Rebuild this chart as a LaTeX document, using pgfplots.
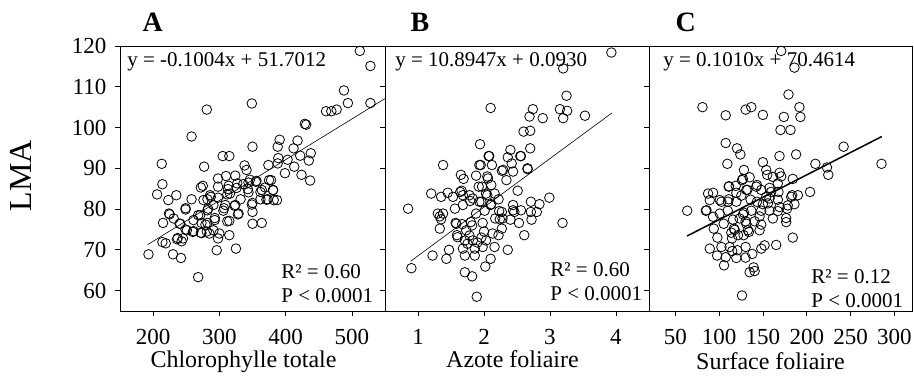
\documentclass[border=0pt]{standalone}
\usepackage{fontspec}
\setmainfont{Liberation Serif}
\usepackage{pgfplots}
\pgfplotsset{compat=1.18}

\pgfplotsset{
  panel/.style={
    scale only axis, width=#1, height=265pt,
    ymin=55, ymax=120, ytick={60,70,...,120},
    line width=0.8pt,
    tick align=outside, xtick pos=lower, ytick pos=left,
    major tick length=5pt,
    tick style={black, line width=0.7pt},
    tick label style={font=\fontsize{23}{27}\selectfont},
    xticklabel style={inner sep=0pt},
    /pgf/number format/assume math mode=true,
    xticklabel shift=13pt, yticklabel shift=5pt,
    clip=false,
    xlabel style={at={(axis description cs:0.5,0)}, anchor=base, yshift=-57pt,
      inner sep=0pt, font=\fontsize{24}{28}\selectfont},
    title style={at={(axis description cs:0,1)}, anchor=base west, yshift=8pt,
      font=\fontsize{28}{32}\selectfont\bfseries},
  },
  pts/.style={only marks, mark=o, mark size=4.8pt, mark options={line width=0.8pt, black}},
}
\tikzset{
  eq/.style={anchor=north west, inner sep=0pt, font=\fontsize{21}{24}\selectfont},
  rr/.style={anchor=south west, align=left, inner sep=0pt, font=\fontsize{21}{24}\selectfont},
}

\begin{document}
\begin{tikzpicture}
\path[use as bounding box] (-120pt,-76pt) rectangle (794pt,311pt);

% A
\begin{axis}[panel=265pt, at={(0pt,0pt)}, anchor=south west,
  xmin=150, xmax=550, xtick={200,300,400,500},
  xlabel={Chlorophylle totale}, xlabel style={xshift=-9pt},
  title={A}, title style={xshift=19pt}]
\addplot[pts] coordinates {
(193,68.9) (213,91.1) (206,83.6) (214,86.1) (223,82.2) (235,83.4) (215,76.6) (224,78.9)
(231,77.7) (214,71.9) (219,71.6) (230,68.9) (242,68.0) (236,72.6) (243,72.1) (245,72.8)
(241,76.4) (249,79.9) (251,74.8) (258,82.4) (258,97.8) (261,77.3) (261,74.6) (273,76.6)
(273,74.1) (271,78.5) (272,85.3) (275,85.7) (277,90.4) (281,104.4) (276,82.2) (282,82.4)
(286,83.4) (283,80.1) (282,76.6) (281,74.5) (285,74.0) (291,74.8) (293,77.3) (296,69.9)
(298,72.8) (300,74.0) (268,63.3) (298,85.5) (298,87.5) (305,93.0) (306,79.6) (309,81.0)
(310,88.1) (315,93.0) (314,85.7) (316,83.8) (315,77.1) (315,73.6) (324,88.2) (324,81.0)
(325,70.3) (327,86.3) (329,78.9) (332,82.4) (338,90.7) (341,89.6) (344,86.5) (344,84.1)
(346,87.2) (349,105.9) (350,95.3) (350,81.5) (350,79.3) (350,76.4) (355,86.7) (364,76.6)
(362,84.2) (362,82.4) (369,85.3) (374,90.8) (375,87.1) (371,82.3) (381,84.6) (382,82.2)
(387,82.2) (388,91.2) (391,97.0) (388,95.3) (389,92.5) (399,88.8) (403,92.1) (413,90.4)
(412,94.9) (418,96.8) (424,88.4) (422,93.1) (429,100.9) (431,100.7) (435,91.9) (438,93.7)
(437,87.0) (461,104.0) (469,104.0) (477,104.4) (488,109.1) (494,106.0) (512,118.8) (528,115.1)
(528,106.0) (287,83.0) (313,84.9) (312,83.6) (326,85.2) (336,86.1) (343,84.9) (356,86.9)
(364,84.7) (378,87.1) (381,84.7) (373,82.4) (349,81.1) (328,78.7) (323,80.8) (307,80.2)
(312,77.0) (298,82.8) (291,81.0) (282,79.7) (279,76.2) (272,74.2) (260,74.4) (249,75.0)
(237,72.9) (225,78.7) (240,76.4) (249,80.2) (268,78.5) (293,77.8)
};
\addplot[black, line width=0.6pt] coordinates {(192,71.3) (550,107.1)};
\node[eq, xshift=7pt, yshift=-6pt] at (axis description cs:0,1) {y = -0.1004x + 51.7012};
\node[rr, xshift=161pt, yshift=8pt] at (axis description cs:0,0) {R² = 0.60\\P < 0.0001};
\end{axis}

% B
\begin{axis}[panel=264pt, at={(265pt,0pt)}, anchor=south west,
  xmin=0.5, xmax=4.5, xtick={1,2,3,4}, yticklabels={},
  xlabel={Azote foliaire}, xlabel style={xshift=-4.5pt},
  title={B}, title style={xshift=22pt}]
\addplot[pts] coordinates {
(3.93,118.4) (3.20,114.5) (3.25,107.8) (3.15,104.5) (3.26,104.1) (3.20,102.3) (3.53,102.9)
(2.74,104.5) (2.69,102.7) (2.89,102.3) (2.10,104.8) (2.60,99.0) (2.70,99.2) (2.70,94.9)
(2.55,93.0) (2.40,94.5) (2.36,92.7) (2.42,91.2) (2.07,93.0) (1.94,95.9) (1.95,90.8)
(2.12,90.8) (2.27,89.4) (2.44,89.2) (2.66,89.8) (2.34,87.1) (2.06,87.5) (1.88,88.2)
(1.65,88.4) (1.69,87.4) (1.38,90.8) (1.20,83.8) (1.35,83.0) (1.45,84.0) (1.53,83.0)
(1.66,84.5) (1.68,83.4) (1.78,83.4) (1.83,82.6) (1.92,85.5) (1.97,85.5) (2.03,83.8)
(2.11,85.9) (2.16,83.8) (2.22,82.4) (2.51,84.5) (1.96,81.8) (2.11,81.2) (1.68,81.0)
(1.56,80.1) (0.85,80.1) (1.30,78.9) (1.38,78.9) (1.35,77.5) (1.33,75.2) (1.57,76.6)
(1.67,76.3) (1.73,74.8) (1.88,78.9) (1.98,76.6) (1.82,76.0) (1.59,73.6) (1.71,72.3)
(1.83,72.3) (1.96,73.0) (2.03,72.3) (1.98,70.7) (2.16,70.7) (1.86,70.3) (1.68,70.3)
(1.71,68.6) (1.86,68.6) (1.47,70.0) (1.43,67.8) (1.22,68.6) (0.90,65.5) (1.71,64.5)
(1.82,63.5) (2.02,65.9) (2.10,67.8) (1.89,58.5) (2.36,70.0) (2.22,73.6) (2.27,75.2)
(2.17,77.7) (2.24,77.5) (2.27,79.3) (2.40,77.4) (2.44,79.7) (2.46,79.3) (2.53,76.6)
(2.56,79.7) (2.61,73.6) (2.71,81.8) (2.71,79.3) (2.80,79.3) (2.84,81.2) (2.99,82.8)
(2.72,77.4) (3.19,76.6) (2.44,81.0) (2.01,79.6) (2.13,74.0) (1.64,84.2) (1.79,82.0)
(1.93,81.8) (2.05,83.4) (2.10,81.0) (1.33,78.2) (1.58,76.4) (1.80,76.8) (1.60,73.1)
(2.28,77.7) (2.23,79.5) (2.05,88.0) (1.93,90.8) (2.08,93.0) (2.29,89.6) (2.56,93.0)
(2.66,90.0) (1.75,71.5) (1.90,71.8) (2.00,74.5) (1.78,73.5)
};
\addplot[black, line width=0.6pt] coordinates {(0.888,67.2) (3.94,103.6)};
\node[eq, xshift=10pt, yshift=-6pt] at (axis description cs:0,1) {y = 10.8947x + 0.0930};
\node[rr, xshift=165pt, yshift=10pt] at (axis description cs:0,0) {R² = 0.60\\P < 0.0001};
\end{axis}

% C
\begin{axis}[panel=263pt, at={(529pt,0pt)}, anchor=south west,
  xmin=20, xmax=320, xtick={50,100,...,300}, yticklabels={},
  xlabel={Surface foliaire}, xlabel style={xshift=-10pt, yshift=-2pt},
  title={C}, title style={xshift=23pt}]
\addplot[pts] coordinates {
(170.8,118.8) (185.9,114.7) (179.1,108.1) (81.0,105.0) (107.5,103.0) (130.2,104.4) (136.7,105.0)
(149.9,103.1) (173.8,102.6) (191.6,105.0) (192.7,102.6) (170.0,99.4) (181.4,99.4) (107.5,96.2)
(120.4,94.9) (124.2,93.4) (109.4,91.1) (128.3,89.6) (149.9,91.5) (153.7,89.6) (168.9,93.0)
(187.8,93.4) (242.0,95.3) (209.8,91.1) (223.0,90.2) (224.5,88.4) (285.2,91.1) (168.9,88.9)
(184.0,87.4) (161.3,87.9) (143.1,85.9) (134.8,87.8) (126.1,87.1) (118.9,85.7) (111.3,85.6)
(131.0,84.7) (119.6,84.0) (111.0,82.4) (102.6,81.8) (93.1,84.0) (87.4,83.8) (89.3,82.2)
(84.8,79.6) (63.6,79.6) (93.1,78.1) (100.7,78.9) (109.8,79.6) (119.6,81.8) (128.4,79.1)
(136.7,79.6) (148.0,79.6) (157.5,79.6) (161.3,77.7) (153.7,83.0) (159.3,84.2) (167.7,84.2)
(183.3,83.4) (189.8,83.4) (203.7,84.2) (178.3,80.9) (185.9,81.2) (176.4,77.8) (168.9,80.5)
(143.1,81.8) (149.9,81.2) (155.6,81.4) (140.5,77.0) (148.0,76.2) (130.2,77.0) (123.4,77.7)
(115.8,77.4) (105.2,76.4) (113.9,74.2) (121.5,73.6) (127.9,73.6) (134.0,74.4) (98.0,73.0)
(102.6,70.7) (89.3,70.3) (97.7,68.6) (107.5,68.2) (105.6,66.2) (114.9,69.7) (119.6,68.0)
(130.2,68.1) (130.2,70.7) (137.8,69.0) (151.8,71.1) (165.1,71.2) (184.0,73.0) (139.3,65.7)
(134.8,64.5) (140.5,64.8) (126.1,58.8) (167.0,82.3) (135.9,82.3) (117.7,74.9) (146.1,78.2)
(93.9,75.2) (110.9,85.5) (127.2,87.4) (132.2,84.7) (125.3,83.3) (142.4,85.5) (148.1,84.7)
(157.5,85.2) (166.9,86.3) (157.5,82.6) (127.2,78.7) (131.0,76.4) (146.1,74.8) (132.8,74.8)
(116.9,75.2) (114.7,72.8) (120.8,69.9) (112.0,70.7) (148.1,70.3) (176.5,76.8) (166.9,79.5)
(177.6,80.1) (182.2,83.0) (170.8,88.0) (100.7,82.2) (85.6,79.7) (110.0,81.8) (154.9,88.4)
};
\addplot[black, line width=1.5pt] coordinates {(63.5,73.4) (285.6,97.8)};
\node[eq, xshift=14pt, yshift=-6pt] at (axis description cs:0,1) {y = 0.1010x + 70.4614};
\node[rr, xshift=162pt, yshift=3pt] at (axis description cs:0,0) {R² = 0.12\\P < 0.0001};
\end{axis}

\node[rotate=90, font=\fontsize{32}{36}\selectfont] at (-99pt,135pt) {LMA};
\end{tikzpicture}
\end{document}
